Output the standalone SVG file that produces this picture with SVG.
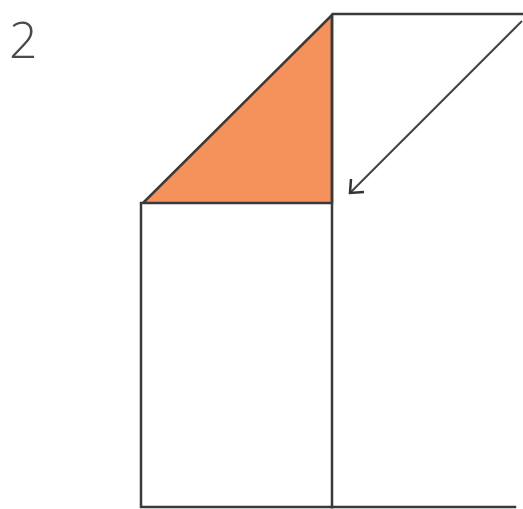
<svg xmlns="http://www.w3.org/2000/svg" width="523" height="509" viewBox="0 0 523 509">
<style>
.ln{stroke:#3a3a3a;stroke-width:2.5;fill:none;stroke-linecap:square}
.lbl{font-family:"Open Sans","Liberation Sans",sans-serif;font-weight:300;font-size:50px;fill:#4a4a4a}
</style>
<rect width="523" height="509" fill="#ffffff"/>
<g id="triangle">
<polygon points="143,203 332,15 332,203" fill="#F5925C" stroke="#3a3a3a" stroke-width="2.5" stroke-linejoin="round"/>
</g>
<g id="left-rect">
<polyline class="ln" points="141,203 141,507 332,507"/>
</g>
<g id="outline">
<line class="ln" x1="332" y1="15" x2="332" y2="507"/>
<line class="ln" x1="333" y1="14" x2="523" y2="14"/>
<line class="ln" x1="332" y1="507" x2="515" y2="507" stroke="#666"/>
</g>
<g id="connectors">
<line x1="522" y1="21" x2="350" y2="193" stroke="#444" stroke-width="2"/>
<polyline points="351,179 350,193 364,192" fill="none" stroke="#333" stroke-width="2.5" stroke-linejoin="miter"/>
</g>
<text class="lbl" x="9" y="58">2</text>
</svg>
